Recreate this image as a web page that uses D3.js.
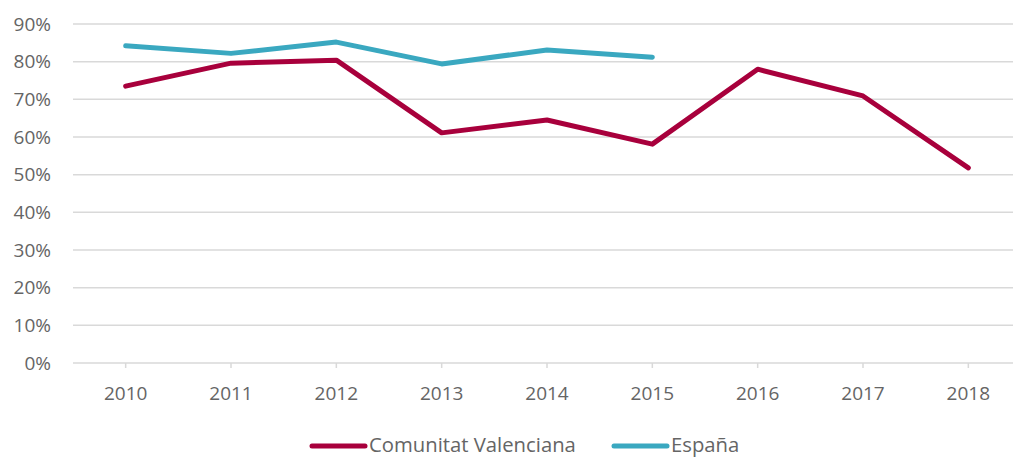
<!DOCTYPE html>
<html>
<head>
  <meta charset="utf-8">
  <script src="https://d3js.org/d3.v7.min.js"></script>
  <style>
    body { margin: 0; background: #fff; }
    text { font-family: "Open Sans", sans-serif; fill: #656565; }
  </style>
</head>
<body>
  <script type="text/javascript">
    // data
    var years = ["2010", "2011", "2012", "2013", "2014", "2015", "2016", "2017", "2018"];
    var valencia = [73.5, 79.6, 80.4, 61.1, 64.5, 58.1, 78.0, 70.9, 51.8];
    var espana = [84.2, 82.2, 85.2, 79.4, 83.1, 81.2];
    var yTicks = [0, 10, 20, 30, 40, 50, 60, 70, 80, 90];
    var seriesNames = ["Comunitat Valenciana", "España"];

    var width = 1013, height = 457;
    var plotLeft = 73, plotRight = 1021, plotTop = 24, plotBottom = 363;

    var svg = d3.select("body").append("svg")
      .attr("width", width)
      .attr("height", height);

    var x = d3.scalePoint().domain(years).range([plotLeft, plotRight]).padding(0.5);
    var y = d3.scaleLinear().domain([0, 90]).range([plotBottom, plotTop]);

    // gridlines
    svg.append("g").selectAll("line")
      .data(yTicks)
      .enter().append("line")
      .attr("x1", plotLeft).attr("x2", plotRight)
      .attr("y1", function(d) { return y(d); })
      .attr("y2", function(d) { return y(d); })
      .attr("stroke", "#d9d9d9")
      .attr("stroke-width", 1.5);

    // y labels
    svg.append("g").selectAll("text")
      .data(yTicks)
      .enter().append("text")
      .attr("x", 51)
      .attr("y", function(d) { return y(d); })
      .attr("dy", "0.35em")
      .attr("text-anchor", "end")
      .style("font-size", "19px")
      .text(function(d) { return d + "%"; });

    // x ticks and labels
    var xg = svg.append("g");
    xg.selectAll("line")
      .data(years)
      .enter().append("line")
      .attr("x1", function(d) { return x(d); })
      .attr("x2", function(d) { return x(d); })
      .attr("y1", plotBottom).attr("y2", plotBottom + 5)
      .attr("stroke", "#d9d9d9")
      .attr("stroke-width", 1.5);
    xg.selectAll("text")
      .data(years)
      .enter().append("text")
      .attr("x", function(d) { return x(d); })
      .attr("y", 393)
      .attr("dy", "0.35em")
      .attr("text-anchor", "middle")
      .style("font-size", "19px")
      .text(function(d) { return d; });

    var colors = ["#a8003c", "#3aa8c0"];
    var line = d3.line()
      .x(function(d, i) { return x(years[i]); })
      .y(function(d) { return y(d); });

    [valencia, espana].forEach(function(s, k) {
      svg.append("path")
        .datum(s)
        .attr("d", line)
        .attr("fill", "none")
        .attr("stroke", colors[k])
        .attr("stroke-width", 5)
        .attr("stroke-linejoin", "round")
        .attr("stroke-linecap", "round");
    });

    // legend
    var legX = [312, 614];
    seriesNames.forEach(function(n, k) {
      svg.append("line")
        .attr("x1", legX[k]).attr("x2", legX[k] + 53)
        .attr("y1", 446).attr("y2", 446)
        .attr("stroke", colors[k])
        .attr("stroke-width", 5)
        .attr("stroke-linecap", "round");
      svg.append("text")
        .attr("x", legX[k] + 57)
        .attr("y", 445)
        .attr("dy", "0.35em")
        .style("font-size", "20.3px")
        .text(n);
    });
  </script>
</body>
</html>
